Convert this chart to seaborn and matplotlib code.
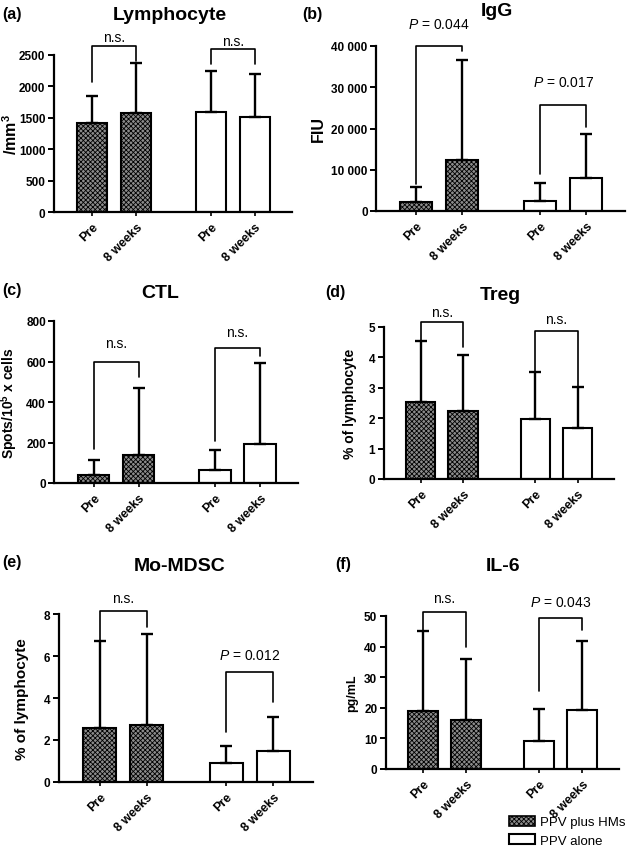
import numpy as np
import pandas as pd
import matplotlib
matplotlib.use("Agg")
import matplotlib.pyplot as plt
import seaborn as sns
from matplotlib.patches import Patch

sns.set_style("ticks")
plt.rcParams["font.family"] = ["Liberation Sans", "DejaVu Sans"]
plt.rcParams["mathtext.fontset"] = "custom"
plt.rcParams["mathtext.rm"] = "Liberation Sans"
plt.rcParams["mathtext.it"] = "Liberation Sans:italic"
plt.rcParams["mathtext.bf"] = "Liberation Sans:bold"
plt.rcParams["hatch.linewidth"] = 0.6
for k in ["text.color", "axes.labelcolor", "xtick.color", "ytick.color", "axes.edgecolor"]:
    plt.rcParams[k] = "black"

# ---- data (mean and SD) ----
groups = ["PPV plus HMs", "PPV plus HMs", "PPV alone", "PPV alone"]
timepoints = ["Pre", "8 weeks", "Pre", "8 weeks"]

lym_mean = [1420, 1570, 1600, 1510]
lym_sd = [420, 810, 650, 680]

igg_mean = [2250, 12350, 2500, 8000]
igg_sd = [3500, 24200, 4300, 10600]

ctl_mean = [40, 140, 62, 193]
ctl_sd = [74, 327, 103, 398]

treg_mean = [2.52, 2.23, 1.97, 1.67]
treg_sd = [2.03, 1.86, 1.55, 1.35]

mdsc_mean = [2.58, 2.73, 0.9, 1.5]
mdsc_sd = [4.13, 4.3, 0.8, 1.58]

il6_mean = [19.1, 16.1, 9.2, 19.4]
il6_sd = [25.9, 20.0, 10.4, 22.4]

# comparison labels: (label, bracket top, left leg end, right leg end, label height)
lym_tests = [("n.s.", 2640, 2070, 2400, 2790), ("n.s.", 2590, 2350, 2350, 2720)]
igg_tests = [("$P$ = 0.044", 40000, 6550, 38800, 45300), ("$P$ = 0.017", 25700, 8900, 20300, 31300)]
ctl_tests = [("n.s.", 596, 168, 522, 690), ("n.s.", 665, 209, 626, 748)]
treg_tests = [("n.s.", 5.15, 4.55, 4.33, 5.5), ("n.s.", 4.88, 3.55, 3.05, 5.26)]
mdsc_tests = [("n.s.", 8.16, 6.73, 7.37, 8.75), ("$P$ = 0.012", 5.22, 2.37, 3.8, 6.05)]
il6_tests = [("n.s.", 51.4, 45.0, 39.8, 56.0), ("$P$ = 0.043", 49.2, 25.6, 45.5, 54.6)]

bar_pos = [0, 1, 2.7, 3.7]
hm_face = "#8c8c8c"
hm_hatch = "xxxxxxx"
W, H = 630, 853

fig = plt.figure(figsize=(W / 100, H / 100), dpi=100)


def px_rect(left, width, top, bottom):
    return [left / W, 1 - bottom / H, width / W, (bottom - top) / H]


def draw_panel(rect, mean, sd, tests, yticks, yticklabels, ylabel, label_x, ylabel_size=10.5):
    ax = fig.add_axes(rect)
    df = pd.DataFrame({"pos": bar_pos, "mean": mean, "group": groups})
    sns.barplot(data=df, x="pos", y="mean", hue="group", native_scale=True,
                dodge=False, width=0.69, palette={"PPV plus HMs": hm_face, "PPV alone": "white"},
                edgecolor="black", linewidth=1.5, legend=False, ax=ax)
    for p in ax.patches:
        if p.get_x() + p.get_width() / 2 < 1.85:
            p.set_hatch(hm_hatch)
    ax.errorbar(bar_pos, mean, yerr=[np.zeros(4), sd], fmt="none", ecolor="black",
                elinewidth=1.7, capsize=4.5, capthick=1.7, zorder=1)
    for i, (txt, top, lb, rb, ty) in enumerate(tests):
        x0, x1 = bar_pos[2 * i], bar_pos[2 * i + 1]
        ax.plot([x0, x0, x1, x1], [lb, top, top, rb], color="black", lw=1.2, clip_on=False)
        ax.text((x0 + x1) / 2, ty, txt, ha="center", va="center", fontsize=10, clip_on=False)
    ax.set_xlim(-0.87, 4.55)
    ax.set_ylim(yticks[0], yticks[-1])
    ax.set_yticks(yticks)
    ax.set_yticklabels(yticklabels, fontweight="bold", fontsize=8.5)
    ax.set_xticks(bar_pos)
    ax.set_xticklabels(timepoints, rotation=45, ha="right", rotation_mode="anchor",
                       fontweight="bold", fontsize=9)
    ax.set_xlabel("")
    ax.set_ylabel(ylabel, fontweight="bold", fontsize=ylabel_size)
    ax.tick_params(axis="y", length=4, width=1.4, pad=2)
    ax.tick_params(axis="x", length=3, width=1.2, pad=3)
    for s in ["left", "bottom"]:
        ax.spines[s].set_linewidth(1.6)
    sns.despine(ax=ax)
    left_px = rect[0] * W
    width_px = rect[2] * W
    ax.yaxis.set_label_coords((label_x - left_px) / width_px, 0.5)
    return ax


def ax_rect(c0, s, top, bottom):
    return px_rect(c0 - 0.87 * s, 5.42 * s, top, bottom)


draw_panel(ax_rect(92, 44, 56, 213), lym_mean, lym_sd, lym_tests,
           [0, 500, 1000, 1500, 2000, 2500], ["0", "500", "1000", "1500", "2000", "2500"],
           r"/mm$^{\mathbf{3}}$", 20, ylabel_size=11.5)
draw_panel(ax_rect(416, 46, 47, 212), igg_mean, igg_sd, igg_tests,
           [0, 10000, 20000, 30000, 40000], ["0", "10 000", "20 000", "30 000", "40 000"],
           "FIU", 326, ylabel_size=11.5)
draw_panel(ax_rect(93.5, 45, 322, 484), ctl_mean, ctl_sd, ctl_tests,
           [0, 200, 400, 600, 800], ["0", "200", "400", "600", "800"],
           r"Spots/10$^{\mathbf{5}}$ x cells", 20, ylabel_size=10)
draw_panel(ax_rect(420.5, 42.5, 328, 480), treg_mean, treg_sd, treg_tests,
           [0, 1, 2, 3, 4, 5], ["0", "1", "2", "3", "4", "5"],
           "% of lymphocyte", 357, ylabel_size=10)
draw_panel(ax_rect(99.5, 47, 615, 783), mdsc_mean, mdsc_sd, mdsc_tests,
           [0, 2, 4, 6, 8], ["0", "2", "4", "6", "8"],
           "% of lymphocyte", 29, ylabel_size=11)
draw_panel(ax_rect(423, 43, 617, 770), il6_mean, il6_sd, il6_tests,
           [0, 10, 20, 30, 40, 50], ["0", "10", "20", "30", "40", "50"],
           "pg/mL", 358, ylabel_size=9)

titles = [("Lymphocyte", 170, 15), ("IgG", 497, 11), ("CTL", 160, 294),
          ("Treg", 500, 295), ("Mo-MDSC", 180, 567), ("IL-6", 503, 567)]
for t, x, y in titles:
    fig.text(x / W, 1 - y / H, t, ha="center", va="center", fontsize=14, fontweight="bold")

letters = [("(a)", 2, 15), ("(b)", 302, 14), ("(c)", 2, 291),
           ("(d)", 325, 293), ("(e)", 2, 563), ("(f)", 335, 565)]
for t, x, y in letters:
    fig.text(x / W, 1 - y / H, t, ha="left", va="center", fontsize=11.5, fontweight="bold")

handles = [Patch(facecolor=hm_face, edgecolor="black", hatch=hm_hatch, linewidth=1.2, label="PPV plus HMs"),
           Patch(facecolor="white", edgecolor="black", linewidth=1.5, label="PPV alone")]
fig.legend(handles=handles, loc="lower right", bbox_to_anchor=(1.012, -0.008), frameon=False,
           fontsize=9.5, handlelength=2.0, handleheight=0.8, labelspacing=0.45, handletextpad=0.4)

fig.savefig("out.png", dpi=100)
